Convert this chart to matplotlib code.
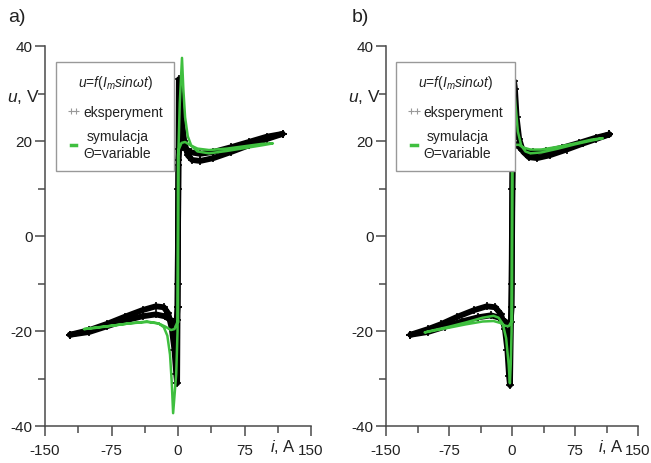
import matplotlib
matplotlib.use("Agg")
import matplotlib.pyplot as plt
from matplotlib.lines import Line2D
from matplotlib.ticker import FixedLocator

FONT = ['Liberation Sans', 'DejaVu Sans']
plt.rcParams['font.family'] = FONT
plt.rcParams['mathtext.fontset'] = 'custom'
plt.rcParams['mathtext.it'] = 'Liberation Sans:italic'
plt.rcParams['mathtext.rm'] = 'Liberation Sans'

# ---------------- data (i in A, u in V) ----------------
x_ticks = [-150, -75, 0, 75, 150]
x_tick_labels = ['-150', '-75', '0', '75', '150']
y_ticks = [-40, -20, 0, 20, 40]
y_tick_labels = ['-40', '-20', '0', '20', '40']

# panel a) experiment: outgoing / returning branches
exp_a_up_i = [-0.5, 0.3, 1.0, 2.0, 4.0, 7.0, 11, 16, 25, 40, 60, 80, 100, 118]
exp_a_up_u = [-15, 10, 33, 31, 25, 20, 17, 16.0, 15.8, 16.4, 17.7, 19.1, 20.4, 21.5]
exp_a_upr_i = [118, 100, 80, 60, 40, 25, 15, 8, 4, 1.5, 0.5]
exp_a_upr_u = [21.5, 20.9, 19.8, 18.7, 17.7, 17.3, 17.6, 18.4, 18.8, 18.3, 16]
exp_a_lo_i = [0.5, -0.3, -1.0, -2.0, -4.0, -7.0, -11, -16, -25, -40, -60, -80, -100, -122]
exp_a_lo_u = [15, -10, -31, -29, -24, -19.5, -16.3, -15.0, -14.8, -15.6, -17.0, -18.5, -19.8, -20.8]
exp_a_lor_i = [-122, -100, -80, -60, -40, -25, -15, -8, -4, -1.5, -0.5]
exp_a_lor_u = [-20.8, -20.2, -19.0, -17.8, -16.9, -16.5, -16.9, -17.7, -18.1, -17.6, -15]

# panel a) simulation
sim_a_i = [0, 0.5, 2, 4.5, 6, 8, 11, 15, 22, 35, 55, 75, 95, 107,
           95, 75, 55, 35, 22, 14, 8, 4, 1.5, 0.5,
           0, -0.5, -2, -5.5, -7, -9, -12, -16, -22, -35, -55, -75, -95, -106,
           -95, -75, -55, -35, -22, -14, -8, -4, -1.5, -0.5, 0]
sim_a_u = [-18, 18, 28, 37.5, 31, 25, 21, 19.0, 17.8, 17.4, 17.9, 18.5, 19.1, 19.5,
           19.4, 18.9, 18.4, 18.1, 18.4, 19.1, 19.8, 19.6, 18.5, 18,
           17, -20, -29, -37.3, -31, -25, -21, -19.2, -18.4, -18.0, -18.4, -18.9, -19.3, -19.6,
           -19.4, -18.9, -18.4, -18.1, -18.4, -19.1, -19.8, -19.6, -18.5, -18, -18]

# panel b) experiment
exp_b_up_i = [-0.5, 0.5, 2.4, 3.5, 5.5, 8.5, 13, 20, 30, 45, 65, 85, 100, 116]
exp_b_up_u = [-15, 10, 32.6, 31, 25, 20.5, 17.8, 16.6, 16.4, 17.0, 18.2, 19.5, 20.4, 21.4]
exp_b_upr_i = [116, 100, 80, 60, 40, 25, 15, 8, 4, 1.5, 0.5]
exp_b_upr_u = [21.4, 20.7, 19.6, 18.6, 17.8, 17.6, 18.0, 18.8, 19.4, 18.8, 16]
exp_b_lo_i = [0.5, -0.5, -2.4, -3.5, -5.5, -8.5, -13, -20, -30, -45, -65, -85, -100, -121]
exp_b_lo_u = [15, -10, -31.4, -29.5, -24, -19.5, -16.5, -15.0, -14.8, -15.6, -17.0, -18.6, -19.6, -20.8]
exp_b_lor_i = [-121, -100, -80, -60, -40, -25, -15, -8, -4, -1.5, -0.5]
exp_b_lor_u = [-20.8, -20.2, -19.1, -18.0, -17.1, -16.7, -17.2, -18.0, -18.6, -18.0, -15]

# panel b) simulation
sim_b_i = [0, 0.5, 1.5, 3, 4.5, 7, 11, 16, 22, 35, 55, 75, 95, 108,
           95, 75, 55, 35, 22, 14, 8, 4, 1.5, 0.5,
           0, -0.5, -1.5, -2.5, -4, -7, -11, -16, -22, -35, -55, -75, -95, -104,
           -95, -75, -55, -35, -22, -14, -8, -4, -1.5, -0.5, 0]
sim_b_u = [-18, 18, 26, 30, 27, 22, 19, 17.8, 17.4, 17.6, 18.4, 19.3, 20.1, 20.6,
           20.3, 19.5, 18.8, 18.2, 18.2, 18.6, 19.2, 19.2, 18.4, 18,
           17, -20, -27, -31, -27, -21.5, -18.5, -17.2, -16.8, -17.2, -18.2, -19.1, -19.9, -20.3,
           -20.0, -19.3, -18.6, -18.0, -17.9, -18.3, -18.9, -19.0, -18.3, -18, -18]

GREEN = '#3fbf3f'
AXC = '#4a4a4a'
TXT = '#222222'


def panel(ax, exp_branches, sim_i, sim_u):
    for bi, bu in exp_branches:
        ax.plot(bi, bu, color='black', lw=4.2, solid_capstyle='round',
                solid_joinstyle='round', zorder=2)
        ax.plot(bi, bu, ls='none', marker='+', ms=6, mew=1.2, color='black', zorder=2)
    ax.plot(sim_i, sim_u, color=GREEN, lw=1.8, zorder=3)

    ax.set_xlim(-150, 150)
    ax.set_ylim(-40, 40)
    for s in ('top', 'right'):
        ax.spines[s].set_visible(False)
    for s in ('left', 'bottom'):
        ax.spines[s].set_color(AXC)
        ax.spines[s].set_linewidth(1.1)
    ax.set_xticks(x_ticks)
    ax.set_xticklabels(x_tick_labels)
    ax.set_yticks(y_ticks)
    ax.set_yticklabels(y_tick_labels)
    ax.xaxis.set_minor_locator(FixedLocator([-112.5, -37.5, 37.5, 112.5]))
    ax.yaxis.set_minor_locator(FixedLocator([-30, -10, 10, 30]))
    ax.tick_params(which='major', length=7, width=1.1, color=AXC,
                   labelsize=11, labelcolor=TXT, pad=2)
    ax.tick_params(which='minor', length=5, width=1.1, color=AXC)
    ax.tick_params(axis='x', pad=5)

    ax.text(-0.02, 29.5, r'$u$, V', transform=ax.get_yaxis_transform(),
            ha='right', va='center', fontsize=12.5, color=TXT)
    ax.text(118, -0.028, r'$i$, A', transform=ax.get_xaxis_transform(),
            ha='center', va='top', fontsize=12, color=TXT)

    handles = [Line2D([], [], ls='none', marker='+', ms=5, mew=0.8, color='#999999'),
               Line2D([], [], color=GREEN, lw=2.5)]
    labels = ['eksperyment', 'symulacja\n\u0398=variable']
    leg = ax.legend(handles, labels, title=r'$u$=$f$($I_m$$sin\omega t$)',
                    loc='upper left', bbox_to_anchor=(0.04, 0.958),
                    fontsize=10, title_fontsize=10, numpoints=2,
                    handlelength=1.0, handletextpad=0.2, labelspacing=0.75,
                    borderpad=0.55, borderaxespad=0, fancybox=False,
                    frameon=True, edgecolor='#999999', framealpha=1)
    leg.get_frame().set_linewidth(1.0)
    leg._legend_box.sep = 10
    leg._legend_box.pad = 8
    for t in leg.get_texts():
        t.set_color(TXT)
        t.set_multialignment('center')
    leg.get_title().set_color(TXT)


fig = plt.figure(figsize=(6.51, 4.64), dpi=100)
ax_a = fig.add_axes([45 / 651, 1 - 427 / 464, 266 / 651, 380 / 464])
ax_b = fig.add_axes([386 / 651, 1 - 427 / 464, 252 / 651, 380 / 464])

panel(ax_a, [(exp_a_up_i, exp_a_up_u), (exp_a_upr_i, exp_a_upr_u),
             (exp_a_lo_i, exp_a_lo_u), (exp_a_lor_i, exp_a_lor_u)], sim_a_i, sim_a_u)
panel(ax_b, [(exp_b_up_i, exp_b_up_u), (exp_b_upr_i, exp_b_upr_u),
             (exp_b_lo_i, exp_b_lo_u), (exp_b_lor_i, exp_b_lor_u)], sim_b_i, sim_b_u)

fig.text(8 / 651, 1 - 18 / 464, 'a)', ha='left', va='center', fontsize=14, color=TXT)
fig.text(352 / 651, 1 - 18 / 464, 'b)', ha='left', va='center', fontsize=14, color=TXT)

fig.savefig('out.png', dpi=100)
